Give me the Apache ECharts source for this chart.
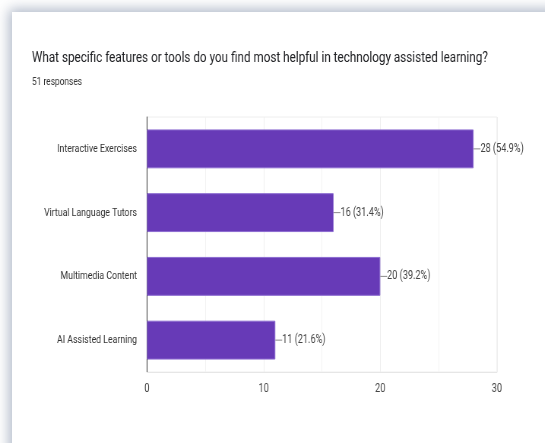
<!DOCTYPE html>
<html>
<head>
<meta charset="utf-8">
<script src="https://cdn.jsdelivr.net/npm/echarts@6/dist/echarts.min.js"></script>
<style>
html,body{margin:0;padding:0;width:545px;height:443px;overflow:hidden;background:#fff;}
#card{position:absolute;left:12px;top:12px;width:600px;height:500px;background:#fff;box-shadow:0 0 12px 3px rgba(110,125,155,0.55);}
#chart{position:absolute;left:0;top:0;width:717px;height:443px;transform:scaleX(0.76);transform-origin:0 0;}
</style>
</head>
<body>
<div id="card"></div>
<div id="chart"></div>
<script>
const titleText = 'What specific features or tools do you find most helpful in technology assisted learning?';
const subtitleText = '51 responses';
const categories = ['Interactive Exercises', 'Virtual Language Tutors', 'Multimedia Content', 'AI Assisted Learning'];
const counts = [28, 16, 20, 11];
const percents = ['54.9%', '31.4%', '39.2%', '21.6%'];
const xTicks = [0, 10, 20, 30];

const S = 0.76; // horizontal squeeze of the reference screenshot
const FONT = "Roboto, sans-serif";
const chart = echarts.init(document.getElementById('chart'));
chart.setOption({
  animation: false,
  title: [
    {text: titleText, left: 32 / S, top: 51, padding: 0, textStyle: {fontFamily: FONT, fontSize: 15.4, fontWeight: 'normal', color: '#202124'}},
    {text: subtitleText, left: 32 / S, top: 77, padding: 0, textStyle: {fontFamily: FONT, fontSize: 11, fontWeight: 'normal', color: '#333'}}
  ],
  grid: {left: 147 / S, right: 48 / S, top: 117, bottom: 71, show: true, borderColor: '#eeeeee', borderWidth: 1},
  xAxis: {
    type: 'value', min: xTicks[0], max: xTicks[xTicks.length - 1], interval: 10,
    axisLine: {show: true, lineStyle: {color: '#e6e6e6'}},
    axisTick: {show: false},
    splitLine: {show: true, lineStyle: {color: '#eeeeee'}},
    minorTick: {show: false, splitNumber: 2},
    minorSplitLine: {show: true, lineStyle: {color: '#f3f3f3'}},
    axisLabel: {fontFamily: FONT, fontSize: 12, color: '#444', margin: 11}
  },
  yAxis: {
    type: 'category', data: categories, inverse: true,
    axisLine: {show: true, lineStyle: {color: '#333', width: 1}},
    axisTick: {show: false},
    axisLabel: {fontFamily: FONT, fontSize: 11.5, color: '#333', margin: 10 / S}
  },
  series: [{
    type: 'bar',
    data: counts,
    barCategoryGap: '39%',
    itemStyle: {color: '#673ab7', borderColor: '#8c6bd0', borderWidth: 1},
    label: {
      show: true, position: 'right', distance: 0,
      formatter: p => '{l| }{t|' + counts[p.dataIndex] + ' (' + percents[p.dataIndex] + ')}',
      rich: {
        l: {width: 9, height: 1, backgroundColor: '#888'},
        t: {fontFamily: FONT, fontSize: 12, color: '#444'}
      }
    }
  }]
});
</script>
</body>
</html>
